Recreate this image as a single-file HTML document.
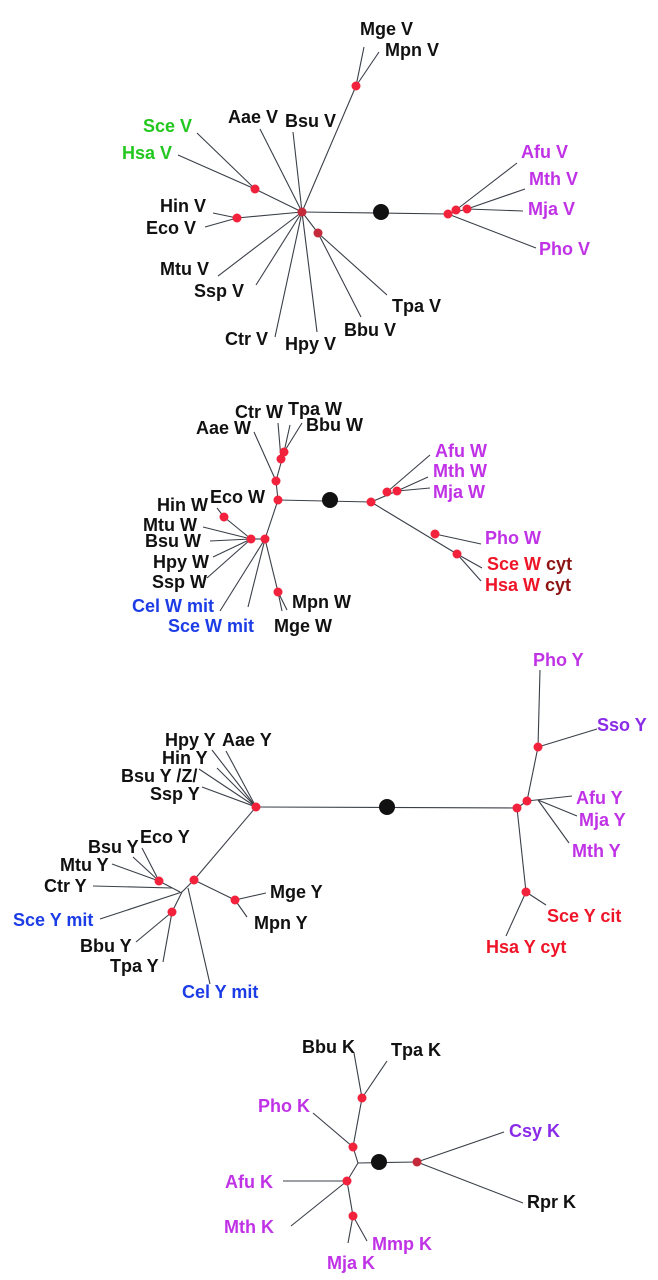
<!DOCTYPE html>
<html><head><meta charset="utf-8"><style>
html,body{margin:0;padding:0;background:#fff;}
svg{display:block}
text{font-family:"Liberation Sans",Arial,sans-serif;font-weight:bold;font-size:18px;fill:#111;}
.p{fill:#c032e6}.v{fill:#8a2be8}.g{fill:#22c81e}.b{fill:#1c3ce6}.r{fill:#ee1528}.d{fill:#8e1414}
line,polyline{stroke:#3a3f48;stroke-width:1.1;fill:none}
.n{fill:#f2223c}.nd{fill:#c42a3a}
</style></head><body>
<svg width="658" height="1280" viewBox="0 0 658 1280" xmlns="http://www.w3.org/2000/svg">
<!-- Panel 1 -->
<g>
<line x1="302" y1="212" x2="448" y2="214"/>
<line x1="302" y1="212" x2="356" y2="86"/>
<line x1="356" y1="86" x2="364" y2="47"/>
<line x1="356" y1="86" x2="379" y2="52"/>
<line x1="302" y1="212" x2="260" y2="129"/>
<line x1="302" y1="212" x2="293" y2="132"/>
<line x1="302" y1="212" x2="255" y2="189"/>
<line x1="255" y1="189" x2="197" y2="133"/>
<line x1="255" y1="189" x2="178" y2="155"/>
<line x1="302" y1="212" x2="237" y2="218"/>
<line x1="237" y1="218" x2="213" y2="213"/>
<line x1="237" y1="218" x2="205" y2="227"/>
<line x1="302" y1="212" x2="218" y2="276"/>
<line x1="302" y1="212" x2="256" y2="285"/>
<line x1="302" y1="212" x2="275" y2="337"/>
<line x1="302" y1="212" x2="317" y2="332"/>
<line x1="302" y1="212" x2="318" y2="233"/>
<line x1="318" y1="233" x2="361" y2="317"/>
<line x1="318" y1="233" x2="387" y2="295"/>
<line x1="456" y1="210" x2="517" y2="163"/>
<line x1="467" y1="209" x2="525" y2="189"/>
<line x1="467" y1="209" x2="523" y2="211"/>
<line x1="448" y1="214" x2="536" y2="248"/>
<line x1="448" y1="214" x2="467" y2="209"/>
<circle cx="381" cy="212" r="8" fill="#111"/>
<circle class="n" cx="356" cy="86" r="4.5"/>
<circle class="n" cx="255" cy="189" r="4.5"/>
<circle class="n" cx="237" cy="218" r="4.5"/>
<circle class="nd" cx="302" cy="212" r="4.5"/>
<circle class="nd" cx="318" cy="233" r="4.5"/>
<circle class="n" cx="448" cy="214" r="4.5"/>
<circle class="n" cx="456" cy="210" r="4.5"/>
<circle class="n" cx="467" cy="209" r="4.5"/>
<text x="360" y="35">Mge V</text>
<text x="385" y="56">Mpn V</text>
<text x="228" y="123">Aae V</text>
<text x="285" y="127">Bsu V</text>
<text class="g" x="143" y="132">Sce V</text>
<text class="g" x="122" y="159">Hsa V</text>
<text x="160" y="212">Hin V</text>
<text x="146" y="234">Eco V</text>
<text x="160" y="275">Mtu V</text>
<text x="194" y="297">Ssp V</text>
<text x="392" y="312">Tpa V</text>
<text x="344" y="336">Bbu V</text>
<text x="225" y="345">Ctr V</text>
<text x="285" y="350">Hpy V</text>
<text class="p" x="521" y="158">Afu V</text>
<text class="p" x="529" y="185">Mth V</text>
<text class="p" x="528" y="215">Mja V</text>
<text class="p" x="539" y="255">Pho V</text>
</g>
<!-- Panel 2 -->
<g>
<line x1="278" y1="500" x2="371" y2="502"/>
<line x1="371" y1="502" x2="397" y2="491"/>
<line x1="387" y1="492" x2="430" y2="455"/>
<line x1="397" y1="491" x2="428" y2="477"/>
<line x1="397" y1="491" x2="430" y2="488"/>
<line x1="371" y1="502" x2="457" y2="554"/>
<line x1="435" y1="534" x2="481" y2="544"/>
<line x1="457" y1="554" x2="482" y2="568"/>
<line x1="457" y1="554" x2="481" y2="581"/>
<line x1="278" y1="500" x2="276" y2="481"/>
<line x1="276" y1="481" x2="254" y2="432"/>
<line x1="276" y1="481" x2="284" y2="452"/>
<line x1="281" y1="459" x2="278" y2="423"/>
<line x1="284" y1="452" x2="290" y2="425"/>
<line x1="284" y1="452" x2="302" y2="423"/>
<line x1="278" y1="500" x2="265" y2="539"/>
<line x1="265" y1="539" x2="251" y2="539"/>
<line x1="251" y1="539" x2="224" y2="517"/>
<line x1="224" y1="517" x2="217" y2="508"/>
<line x1="251" y1="539" x2="203" y2="527"/>
<line x1="251" y1="539" x2="210" y2="541"/>
<line x1="251" y1="539" x2="213" y2="557"/>
<line x1="251" y1="539" x2="207" y2="578"/>
<line x1="265" y1="539" x2="220" y2="611"/>
<line x1="265" y1="539" x2="248" y2="607"/>
<line x1="265" y1="539" x2="278" y2="592"/>
<line x1="278" y1="592" x2="282" y2="611"/>
<line x1="278" y1="592" x2="287" y2="610"/>
<circle cx="330" cy="500" r="8" fill="#111"/>
<circle class="n" cx="278" cy="500" r="4.5"/>
<circle class="n" cx="276" cy="481" r="4.5"/>
<circle class="n" cx="281" cy="459" r="4.5"/>
<circle class="n" cx="284" cy="452" r="4.5"/>
<circle class="n" cx="265" cy="539" r="4.5"/>
<circle class="n" cx="251" cy="539" r="4.5"/>
<circle class="n" cx="224" cy="517" r="4.5"/>
<circle class="n" cx="278" cy="592" r="4.5"/>
<circle class="n" cx="371" cy="502" r="4.5"/>
<circle class="n" cx="387" cy="492" r="4.5"/>
<circle class="n" cx="397" cy="491" r="4.5"/>
<circle class="n" cx="435" cy="534" r="4.5"/>
<circle class="n" cx="457" cy="554" r="4.5"/>
<text x="235" y="418">Ctr W</text>
<text x="288" y="415">Tpa W</text>
<text x="306" y="431">Bbu W</text>
<text x="196" y="434">Aae W</text>
<text x="210" y="503">Eco W</text>
<text x="157" y="511">Hin W</text>
<text x="143" y="531">Mtu W</text>
<text x="145" y="547">Bsu W</text>
<text x="153" y="568">Hpy W</text>
<text x="152" y="588">Ssp W</text>
<text class="b" x="132" y="612">Cel W mit</text>
<text class="b" x="168" y="632">Sce W mit</text>
<text x="292" y="608">Mpn W</text>
<text x="274" y="632">Mge W</text>
<text class="p" x="435" y="457">Afu W</text>
<text class="p" x="433" y="477">Mth W</text>
<text class="p" x="433" y="498">Mja W</text>
<text class="p" x="485" y="544">Pho W</text>
<text x="487" y="570"><tspan class="r">Sce W</tspan> <tspan class="d">cyt</tspan></text>
<text x="485" y="591"><tspan class="r">Hsa W</tspan> <tspan class="d">cyt</tspan></text>
</g>
<!-- Panel 3 -->
<g>
<line x1="256" y1="807" x2="517" y2="808"/>
<line x1="256" y1="807" x2="212" y2="750"/>
<line x1="256" y1="807" x2="226" y2="751"/>
<line x1="256" y1="807" x2="217" y2="768"/>
<line x1="256" y1="807" x2="199" y2="769"/>
<line x1="256" y1="807" x2="202" y2="787"/>
<line x1="256" y1="807" x2="194" y2="880"/>
<line x1="194" y1="880" x2="182" y2="892"/>
<line x1="159" y1="881" x2="142" y2="848"/>
<line x1="159" y1="881" x2="133" y2="857"/>
<line x1="159" y1="881" x2="112" y2="864"/>
<line x1="159" y1="881" x2="180" y2="892"/>
<line x1="93" y1="886" x2="172" y2="888"/>
<line x1="182" y1="892" x2="100" y2="919"/>
<line x1="182" y1="892" x2="172" y2="912"/>
<line x1="172" y1="912" x2="136" y2="942"/>
<line x1="172" y1="912" x2="163" y2="962"/>
<line x1="188" y1="888" x2="210" y2="984"/>
<line x1="194" y1="880" x2="235" y2="900"/>
<line x1="235" y1="900" x2="266" y2="893"/>
<line x1="235" y1="900" x2="247" y2="917"/>
<line x1="517" y1="808" x2="527" y2="801"/>
<line x1="527" y1="801" x2="538" y2="747"/>
<line x1="538" y1="747" x2="540" y2="670"/>
<line x1="538" y1="747" x2="597" y2="729"/>
<line x1="527" y1="801" x2="572" y2="796"/>
<line x1="538" y1="800" x2="577" y2="816"/>
<line x1="538" y1="800" x2="569" y2="843"/>
<line x1="517" y1="808" x2="526" y2="892"/>
<line x1="526" y1="892" x2="546" y2="905"/>
<line x1="526" y1="892" x2="506" y2="936"/>
<circle cx="387" cy="807" r="8" fill="#111"/>
<circle class="n" cx="256" cy="807" r="4.5"/>
<circle class="n" cx="194" cy="880" r="4.5"/>
<circle class="n" cx="159" cy="881" r="4.5"/>
<circle class="n" cx="172" cy="912" r="4.5"/>
<circle class="n" cx="235" cy="900" r="4.5"/>
<circle class="n" cx="517" cy="808" r="4.5"/>
<circle class="n" cx="527" cy="801" r="4.5"/>
<circle class="n" cx="538" cy="747" r="4.5"/>
<circle class="n" cx="526" cy="892" r="4.5"/>
<text x="165" y="746">Hpy Y</text>
<text x="222" y="746">Aae Y</text>
<text x="162" y="764">Hin Y</text>
<text x="121" y="782">Bsu Y /Z/</text>
<text x="150" y="800">Ssp Y</text>
<text x="140" y="843">Eco Y</text>
<text x="88" y="853">Bsu Y</text>
<text x="60" y="871">Mtu Y</text>
<text x="44" y="892">Ctr Y</text>
<text class="b" x="13" y="926">Sce Y mit</text>
<text x="80" y="952">Bbu Y</text>
<text x="110" y="972">Tpa Y</text>
<text class="b" x="182" y="998">Cel Y mit</text>
<text x="270" y="898">Mge Y</text>
<text x="254" y="929">Mpn Y</text>
<text class="p" x="533" y="666">Pho Y</text>
<text class="v" x="597" y="731">Sso Y</text>
<text class="p" x="576" y="804">Afu Y</text>
<text class="p" x="579" y="826">Mja Y</text>
<text class="p" x="572" y="857">Mth Y</text>
<text class="r" x="547" y="922">Sce Y cit</text>
<text class="r" x="486" y="953">Hsa Y cyt</text>
</g>
<!-- Panel 4 -->
<g>
<line x1="358" y1="1163" x2="417" y2="1162"/>
<line x1="417" y1="1162" x2="504" y2="1132"/>
<line x1="417" y1="1162" x2="523" y2="1203"/>
<line x1="358" y1="1163" x2="353" y2="1147"/>
<line x1="353" y1="1147" x2="362" y2="1098"/>
<line x1="362" y1="1098" x2="354" y2="1053"/>
<line x1="362" y1="1098" x2="387" y2="1061"/>
<line x1="353" y1="1147" x2="313" y2="1113"/>
<line x1="358" y1="1163" x2="347" y2="1181"/>
<line x1="347" y1="1181" x2="283" y2="1181"/>
<line x1="347" y1="1181" x2="291" y2="1226"/>
<line x1="347" y1="1181" x2="353" y2="1216"/>
<line x1="353" y1="1216" x2="348" y2="1243"/>
<line x1="353" y1="1216" x2="367" y2="1241"/>
<circle cx="379" cy="1162" r="8" fill="#111"/>
<circle class="nd" cx="417" cy="1162" r="4.5"/>
<circle class="n" cx="353" cy="1147" r="4.5"/>
<circle class="n" cx="362" cy="1098" r="4.5"/>
<circle class="n" cx="347" cy="1181" r="4.5"/>
<circle class="n" cx="353" cy="1216" r="4.5"/>
<text x="302" y="1053">Bbu K</text>
<text x="391" y="1056">Tpa K</text>
<text class="p" x="258" y="1112">Pho K</text>
<text class="v" x="509" y="1137">Csy K</text>
<text class="p" x="225" y="1188">Afu K</text>
<text x="527" y="1208">Rpr K</text>
<text class="p" x="224" y="1233">Mth K</text>
<text class="p" x="372" y="1250">Mmp K</text>
<text class="p" x="327" y="1269">Mja K</text>
</g>
</svg>
</body></html>
